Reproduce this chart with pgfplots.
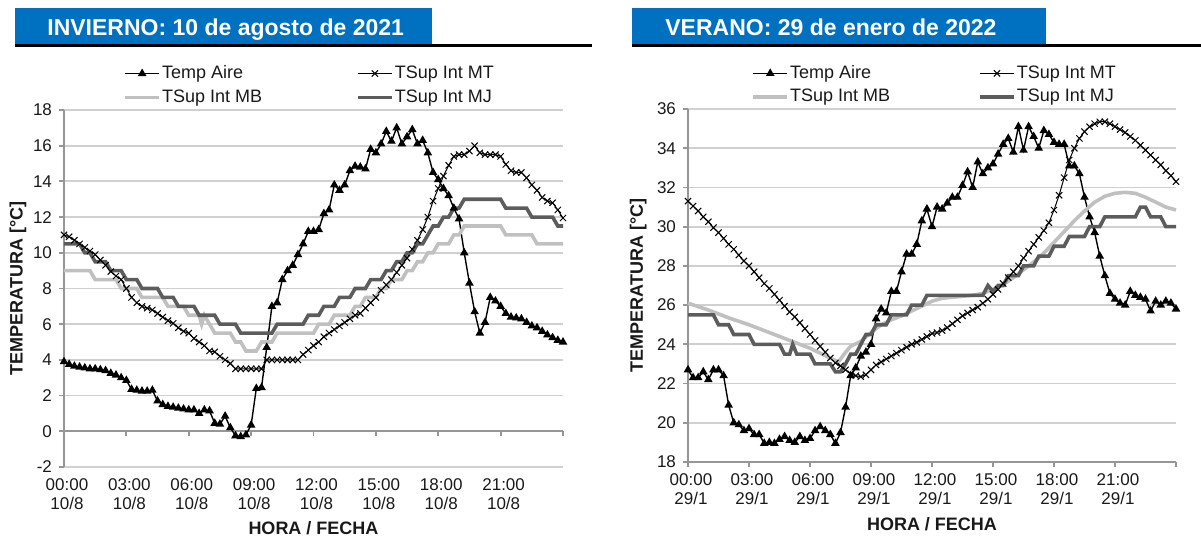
\documentclass[border=0pt]{standalone}
\usepackage{pgfplots}
\pgfplotsset{compat=1.18}
\usepackage{pgfplotstable}
\usepackage{fontspec}
\setmainfont{Liberation Sans}

\definecolor{banner}{RGB}{0,112,192}
\definecolor{gridc}{RGB}{208,208,208}
\definecolor{axisc}{RGB}{150,150,150}
\definecolor{mbc}{RGB}{192,192,192}
\definecolor{mjc}{RGB}{92,92,92}
\definecolor{txt}{RGB}{25,25,25}

% ---------------- Winter day: 10/8/2021 (hours, degC) ----------------
\pgfplotstableread{
h v
0.00 3.90
0.25 3.75
0.50 3.65
0.75 3.60
1.00 3.55
1.25 3.50
1.50 3.50
1.75 3.45
2.00 3.40
2.25 3.25
2.50 3.15
2.75 3.00
3.00 2.85
3.25 2.35
3.50 2.30
3.75 2.25
4.00 2.25
4.25 2.30
4.50 1.70
4.75 1.50
5.00 1.40
5.25 1.35
5.50 1.30
5.75 1.25
6.00 1.20
6.25 1.20
6.50 1.00
6.75 1.20
7.00 1.15
7.25 0.45
7.50 0.40
7.75 0.85
8.00 0.20
8.25 -0.25
8.50 -0.30
8.75 -0.20
9.00 0.35
9.25 2.40
9.50 2.45
9.75 4.70
10.00 7.00
10.25 7.20
10.50 8.50
10.75 9.00
11.00 9.30
11.25 9.90
11.50 10.50
11.75 11.20
12.00 11.20
12.25 11.30
12.50 12.20
12.75 12.40
13.00 13.80
13.25 13.50
13.50 13.80
13.75 14.60
14.00 14.85
14.25 14.80
14.50 14.70
14.75 15.80
15.00 15.60
15.25 16.10
15.50 16.80
15.75 16.25
16.00 17.00
16.25 16.10
16.50 16.50
16.75 16.90
17.00 16.10
17.25 16.30
17.50 15.60
17.75 14.50
18.00 14.10
18.25 13.60
18.50 13.20
18.75 12.50
19.00 11.90
19.25 10.00
19.50 8.30
19.75 6.70
20.00 5.50
20.25 6.10
20.50 7.50
20.75 7.30
21.00 7.00
21.25 6.60
21.50 6.40
21.75 6.35
22.00 6.30
22.25 6.10
22.50 5.90
22.75 5.80
23.00 5.60
23.25 5.40
23.50 5.25
23.75 5.10
24.00 5.00
}\invAire

\pgfplotstableread{
h v
0.00 11.00
0.25 10.90
0.50 10.70
0.75 10.50
1.00 10.30
1.25 10.10
1.50 9.90
1.75 9.60
2.00 9.30
2.25 8.95
2.50 8.70
2.75 8.50
3.00 8.00
3.25 7.50
3.50 7.20
3.75 7.00
4.00 6.90
4.25 6.80
4.50 6.60
4.75 6.40
5.00 6.20
5.25 6.05
5.50 5.80
5.75 5.60
6.00 5.50
6.25 5.20
6.50 5.00
6.75 4.80
7.00 4.50
7.25 4.45
7.50 4.20
7.75 4.00
8.00 3.80
8.25 3.50
8.50 3.50
8.75 3.50
9.00 3.50
9.25 3.50
9.50 3.50
9.75 4.00
10.00 4.00
10.25 4.00
10.50 4.00
10.75 4.00
11.00 4.00
11.25 4.00
11.50 4.30
11.75 4.55
12.00 4.80
12.25 5.00
12.50 5.30
12.75 5.50
13.00 5.70
13.25 5.90
13.50 6.10
13.75 6.30
14.00 6.50
14.25 6.60
14.50 6.90
14.75 7.20
15.00 7.50
15.25 7.90
15.50 8.20
15.75 8.50
16.00 8.90
16.25 9.30
16.50 9.70
16.75 10.20
17.00 10.70
17.25 11.30
17.50 12.00
17.75 12.90
18.00 13.60
18.25 14.30
18.50 14.90
18.75 15.40
19.00 15.50
19.25 15.50
19.50 15.70
19.75 16.00
20.00 15.60
20.25 15.50
20.50 15.50
20.75 15.50
21.00 15.40
21.25 14.95
21.50 14.60
21.75 14.50
22.00 14.50
22.25 14.20
22.50 13.80
22.75 13.50
23.00 13.10
23.25 12.90
23.50 12.80
23.75 12.40
24.00 11.95
}\invMT

\pgfplotstableread{
h v
0.00 9.0
1.25 9.0
1.50 8.5
2.50 8.5
2.75 8.0
3.50 8.0
3.75 7.5
4.75 7.5
5.00 7.0
5.75 7.0
6.00 6.5
6.50 6.5
6.62 6.0
6.75 6.5
7.00 6.0
7.25 5.5
8.00 5.5
8.25 5.0
8.50 5.0
8.75 4.5
9.25 4.5
9.50 5.0
10.00 5.0
10.25 5.5
12.00 5.5
12.25 6.0
12.75 6.0
13.00 6.5
13.75 6.5
14.00 7.0
14.25 7.0
14.50 7.5
15.00 7.5
15.25 8.0
15.50 8.0
15.75 8.5
16.25 8.5
16.50 9.0
16.75 9.0
17.00 9.5
17.25 9.5
17.50 10.0
17.75 10.0
18.00 10.5
18.50 10.5
18.75 11.0
19.00 11.0
19.25 11.5
21.00 11.5
21.25 11.0
22.50 11.0
22.75 10.5
24.00 10.5
}\invMB

\pgfplotstableread{
h v
0.00 10.5
0.75 10.5
1.00 10.0
1.25 10.0
1.50 9.5
2.00 9.5
2.25 9.0
2.75 9.0
3.00 8.5
3.50 8.5
3.75 8.0
4.50 8.0
4.75 7.5
5.25 7.5
5.50 7.0
6.25 7.0
6.50 6.5
7.25 6.5
7.50 6.0
8.25 6.0
8.50 5.5
10.00 5.5
10.25 6.0
11.50 6.0
11.75 6.5
12.25 6.5
12.50 7.0
13.00 7.0
13.25 7.5
13.75 7.5
14.00 8.0
14.50 8.0
14.75 8.5
15.25 8.5
15.50 9.0
15.75 9.0
16.00 9.5
16.25 9.5
16.50 10.0
16.75 10.0
17.00 10.5
17.25 10.5
17.50 11.0
17.75 11.5
18.00 11.5
18.25 12.0
18.50 12.0
18.75 12.5
19.00 12.5
19.25 13.0
21.00 13.0
21.25 12.5
22.25 12.5
22.50 12.0
23.50 12.0
23.75 11.5
24.00 11.5
}\invMJ

% ---------------- Summer day: 29/1/2022 (hours, degC) ----------------
\pgfplotstableread{
h v
0.00 22.70
0.25 22.30
0.50 22.30
0.75 22.60
1.00 22.20
1.25 22.70
1.50 22.70
1.75 22.40
2.00 20.90
2.25 20.00
2.50 19.90
2.75 19.60
3.00 19.70
3.25 19.40
3.50 19.40
3.75 18.95
4.00 19.00
4.25 18.95
4.50 19.15
4.75 19.30
5.00 19.10
5.25 19.00
5.50 19.30
5.75 19.10
6.00 19.20
6.25 19.60
6.50 19.80
6.75 19.60
7.00 19.40
7.25 18.95
7.50 19.50
7.75 20.80
8.00 22.40
8.25 22.80
8.50 23.40
8.75 23.60
9.00 24.00
9.25 25.30
9.50 25.80
9.75 25.60
10.00 26.70
10.25 26.70
10.50 27.70
10.75 28.60
11.00 28.60
11.25 29.10
11.50 30.30
11.75 30.90
12.00 30.00
12.25 31.00
12.50 30.90
12.75 31.20
13.00 31.50
13.25 31.50
13.50 32.10
13.75 32.80
14.00 32.00
14.25 33.30
14.50 32.70
14.75 33.00
15.00 33.20
15.25 33.70
15.50 34.20
15.75 34.50
16.00 33.80
16.25 35.10
16.50 33.90
16.75 35.10
17.00 34.60
17.25 34.00
17.50 34.90
17.75 34.70
18.00 34.30
18.25 34.20
18.50 34.20
18.75 33.10
19.00 33.10
19.25 32.70
19.50 31.50
19.75 30.50
20.00 29.70
20.25 28.50
20.50 27.50
20.75 26.60
21.00 26.30
21.25 26.10
21.50 26.00
21.75 26.70
22.00 26.50
22.25 26.40
22.50 26.30
22.75 25.70
23.00 26.20
23.25 26.00
23.50 26.20
23.75 26.10
24.00 25.80
}\verAire

\pgfplotstableread{
h v
0.00 31.30
0.25 31.05
0.50 30.80
0.75 30.50
1.00 30.25
1.25 29.95
1.50 29.70
1.75 29.40
2.00 29.10
2.25 28.85
2.50 28.55
2.75 28.25
3.00 28.00
3.25 27.70
3.50 27.40
3.75 27.10
4.00 26.85
4.25 26.55
4.50 26.25
4.75 25.95
5.00 25.65
5.25 25.40
5.50 25.10
5.75 24.80
6.00 24.50
6.25 24.20
6.50 23.90
6.75 23.60
7.00 23.30
7.25 23.05
7.50 22.90
7.75 22.70
8.00 22.50
8.25 22.40
8.50 22.35
8.75 22.45
9.00 22.70
9.25 22.95
9.50 23.10
9.75 23.25
10.00 23.40
10.25 23.55
10.50 23.70
10.75 23.85
11.00 24.00
11.25 24.10
11.50 24.25
11.75 24.40
12.00 24.55
12.25 24.60
12.50 24.70
12.75 24.85
13.00 25.05
13.25 25.25
13.50 25.45
13.75 25.60
14.00 25.75
14.25 25.90
14.50 26.10
14.75 26.30
15.00 26.55
15.25 26.80
15.50 27.10
15.75 27.40
16.00 27.70
16.25 28.00
16.50 28.40
16.75 28.75
17.00 29.10
17.25 29.45
17.50 29.80
17.75 30.20
18.00 30.85
18.25 31.60
18.50 32.50
18.75 33.40
19.00 34.00
19.25 34.50
19.50 34.85
19.75 35.10
20.00 35.25
20.25 35.35
20.50 35.35
20.75 35.25
21.00 35.10
21.25 34.95
21.50 34.80
21.75 34.60
22.00 34.40
22.25 34.15
22.50 33.90
22.75 33.65
23.00 33.40
23.25 33.15
23.50 32.85
23.75 32.60
24.00 32.30
}\verMT

\pgfplotstableread{
h v
0.0 26.10
1.0 25.75
2.0 25.35
3.0 25.00
4.0 24.60
5.0 24.20
6.0 23.80
7.0 23.30
7.4 23.10
7.75 23.60
8.0 23.90
8.5 24.15
9.0 24.60
9.5 25.00
10.0 25.25
10.5 25.45
11.0 25.70
11.5 25.95
12.0 26.20
12.5 26.35
13.0 26.40
13.5 26.45
14.0 26.50
14.5 26.60
15.0 26.80
15.5 27.05
16.0 27.40
16.5 27.80
17.0 28.20
17.5 28.65
18.0 29.20
18.5 29.75
19.0 30.30
19.5 30.80
20.0 31.25
20.5 31.55
21.0 31.70
21.5 31.75
22.0 31.70
22.5 31.50
23.0 31.25
23.5 31.00
24.0 30.85
}\verMB

\pgfplotstableread{
h v
0.00 25.5
1.25 25.5
1.50 25.0
2.00 25.0
2.25 24.5
3.00 24.5
3.25 24.0
4.50 24.0
4.75 23.5
5.00 23.5
5.15 24.0
5.35 23.5
6.00 23.5
6.25 23.0
7.00 23.0
7.25 22.6
7.50 22.6
7.75 23.0
8.00 23.5
8.25 23.5
8.50 24.0
8.75 24.5
9.00 24.5
9.25 25.0
9.75 25.0
10.00 25.5
10.75 25.5
11.00 26.0
11.50 26.0
11.75 26.5
14.50 26.5
14.75 27.0
15.00 26.7
15.25 27.0
15.50 27.0
15.75 27.5
16.25 27.5
16.50 28.0
17.00 28.0
17.25 28.5
17.75 28.5
18.00 29.0
18.50 29.0
18.75 29.5
19.50 29.5
19.75 30.0
20.25 30.0
20.50 30.5
22.00 30.5
22.25 31.0
22.50 31.0
22.75 30.5
23.25 30.5
23.50 30.0
24.00 30.0
}\verMJ

\pgfplotsset{
  panel/.style={
    scale only axis,
    clip=false,
    axis x line*=bottom, axis y line*=left,
    axis line style={-},
    xmin=0, xmax=24,
    xtick={0,3,6,9,12,15,18,21,24},
    ymajorgrids,
    grid style={gridc, line width=0.9pt},
    y axis line style={axisc, line width=0.9pt},
    x axis line style={axisc, line width=0.9pt},
    tick style={axisc, line width=0.9pt},
    tick align=outside,
    major tick length=2.5pt,
    ticklabel style={font=\fontsize{8.5}{9.5}\selectfont, text=txt},
    xticklabel style={align=center, xshift=1.5pt},
    xlabel={HORA / FECHA},
    ylabel={TEMPERATURA [°C]},
    label style={font=\bfseries\fontsize{9}{10}\selectfont, text=txt},
    legend columns=2,
    legend cell align=left,
    legend style={draw=none, fill=none, anchor=north west,
      inner xsep=0pt, inner ysep=0pt, text=txt,
      font=\fontsize{9}{10}\selectfont,
      nodes={inner xsep=0.5pt, inner ysep=2pt, text depth=0.15em}},
  },
  air/.style={black, line width=0.7pt, mark=triangle*, mark size=1.8pt,
    mark options={solid, fill=black}},
  mt/.style={black, line width=0.5pt, mark=x, mark size=2.2pt,
    mark options={solid, line width=0.5pt}},
  mb/.style={mbc, line width=1.8pt, no marks},
  mj/.style={mjc, line width=1.8pt, no marks},
}

\begin{document}
\begin{tikzpicture}
\useasboundingbox (0,0) rectangle (600.5pt,270pt);

% section headers
\fill[banner] (7.5pt,248pt) rectangle (216pt,266pt);
\draw[black, line width=1.4pt] (7.5pt,247.3pt) -- (296pt,247.3pt);
\node[anchor=base west, text=white, inner sep=0pt,
  font=\bfseries\fontsize{11.5}{13}\selectfont] at (23.5pt,252pt)
  {INVIERNO: 10 de agosto de 2021};

\fill[banner] (316pt,248pt) rectangle (523pt,266pt);
\draw[black, line width=1.4pt] (316pt,247.3pt) -- (600.5pt,247.3pt);
\node[anchor=base west, text=white, inner sep=0pt,
  font=\bfseries\fontsize{11.5}{13}\selectfont] at (332.5pt,252pt)
  {VERANO: 29 de enero de 2022};

% ---------------- winter panel ----------------
\begin{axis}[panel,
  at={(32pt,36.5pt)}, anchor=south west,
  width=249.5pt, height=178.5pt,
  ymin=-2, ymax=18,
  ytick={-2,0,2,4,6,8,10,12,14,16,18},
  yticklabels={-2,0,2,4,6,8,10,12,14,16,18},
  x axis line style={draw=none},
  tick style={draw=none},
  xticklabels={{00:00\\10/8},{03:00\\10/8},{06:00\\10/8},{09:00\\10/8},
    {12:00\\10/8},{15:00\\10/8},{18:00\\10/8},{21:00\\10/8},{}},
  xlabel style={at={(axis description cs:0.5,-0.171)}, anchor=center},
  ylabel style={at={(axis description cs:-0.092,0.5)}, anchor=center},
  legend style={at={(axis description cs:0.118,1.137)},
    /tikz/every even column/.append style={column sep=46.5pt}},
]
% horizontal axis crosses at 0, with its tick marks
\draw[axisc, line width=0.9pt] (axis cs:0,0) -- (axis cs:24,0);
\pgfplotsinvokeforeach{0,3,6,9,12,15,18,21,24}{
  \draw[axisc, line width=0.9pt] (axis cs:#1,0) -- ++(0pt,-2.5pt);}
\pgfplotsinvokeforeach{-2,0,2,4,6,8,10,12,14,16,18}{
  \draw[axisc, line width=0.9pt] (axis cs:0,#1) -- ++(-2.5pt,0pt);}
\addplot[air] table {\invAire}; \addlegendentry{Temp Aire}
\addplot[mt]  table {\invMT};   \addlegendentry{TSup Int MT}
\addplot[mb]  table {\invMB};   \addlegendentry{TSup Int MB}
\addplot[mj]  table {\invMJ};   \addlegendentry{TSup Int MJ}
\end{axis}

% ---------------- summer panel ----------------
\begin{axis}[panel,
  at={(344pt,39pt)}, anchor=south west,
  width=244pt, height=176.5pt,
  ymin=18, ymax=36,
  ytick={18,20,22,24,26,28,30,32,34,36},
  yticklabels={18,20,22,24,26,28,30,32,34,36},
  xticklabels={{00:00\\29/1},{03:00\\29/1},{06:00\\29/1},{09:00\\29/1},
    {12:00\\29/1},{15:00\\29/1},{18:00\\29/1},{21:00\\29/1},{}},
  xlabel style={at={(axis description cs:0.5,-0.176)}, anchor=center},
  ylabel style={at={(axis description cs:-0.102,0.5)}, anchor=center},
  legend style={at={(axis description cs:0.129,1.136)},
    /tikz/every even column/.append style={column sep=43.5pt}},
]
\addplot[air] table {\verAire}; \addlegendentry{Temp Aire}
\addplot[mt]  table {\verMT};   \addlegendentry{TSup Int MT}
\addplot[mb]  table {\verMB};   \addlegendentry{TSup Int MB}
\addplot[mj]  table {\verMJ};   \addlegendentry{TSup Int MJ}
\end{axis}
\end{tikzpicture}
\end{document}
